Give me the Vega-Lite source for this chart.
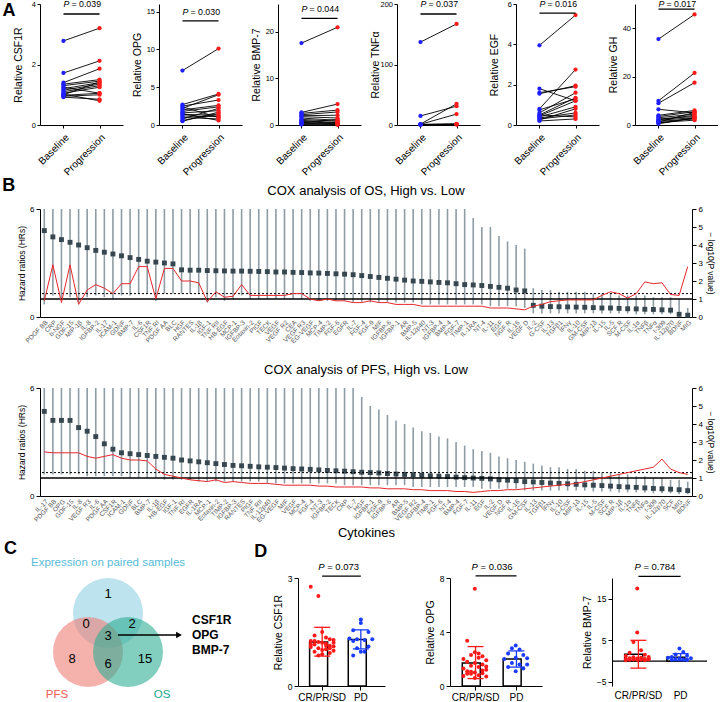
{
"$schema": "https://vega.github.io/schema/vega-lite/v6.json",
"padding": {"left": 2, "top": 0, "right": 0, "bottom": 0},
"config": {"font": "Liberation Sans", "view": {"stroke": null}, "axis": {"domainColor": "black", "tickColor": "black", "labelColor": "black", "titleColor": "black", "titleFontWeight": "normal", "grid": false}, "title": {"fontWeight": "normal", "color": "black"}},
"datasets": {
"A": [
{"m":"CSF1R","p":1,"Baseline":2.78,"Progression":3.2},{"m":"CSF1R","p":2,"Baseline":1.72,"Progression":2.12},{"m":"CSF1R","p":3,"Baseline":1.4,"Progression":1.86},{"m":"CSF1R","p":4,"Baseline":1.35,"Progression":1.5},{"m":"CSF1R","p":5,"Baseline":1.3,"Progression":1.45},{"m":"CSF1R","p":6,"Baseline":1.2,"Progression":1.4},{"m":"CSF1R","p":7,"Baseline":1.15,"Progression":1.35},{"m":"CSF1R","p":8,"Baseline":1.1,"Progression":1.3},{"m":"CSF1R","p":9,"Baseline":1.05,"Progression":1.25},{"m":"CSF1R","p":10,"Baseline":1.0,"Progression":1.42},{"m":"CSF1R","p":11,"Baseline":0.98,"Progression":1.05},{"m":"CSF1R","p":12,"Baseline":0.95,"Progression":1.0},{"m":"CSF1R","p":13,"Baseline":0.92,"Progression":0.85},{"m":"CSF1R","p":14,"Baseline":1.02,"Progression":0.8},{"m":"CSF1R","p":15,"Baseline":1.25,"Progression":1.05},
{"m":"OPG","p":1,"Baseline":7.2,"Progression":10.1},{"m":"OPG","p":2,"Baseline":2.7,"Progression":4.1},{"m":"OPG","p":3,"Baseline":2.5,"Progression":3.3},{"m":"OPG","p":4,"Baseline":2.2,"Progression":4.0},{"m":"OPG","p":5,"Baseline":2.0,"Progression":2.6},{"m":"OPG","p":6,"Baseline":1.8,"Progression":2.4},{"m":"OPG","p":7,"Baseline":1.6,"Progression":1.9},{"m":"OPG","p":8,"Baseline":1.4,"Progression":1.3},{"m":"OPG","p":9,"Baseline":1.2,"Progression":1.1},{"m":"OPG","p":10,"Baseline":1.0,"Progression":0.8},{"m":"OPG","p":11,"Baseline":0.8,"Progression":2.2},{"m":"OPG","p":12,"Baseline":0.6,"Progression":1.5},{"m":"OPG","p":13,"Baseline":2.4,"Progression":1.0},{"m":"OPG","p":14,"Baseline":1.5,"Progression":0.6},{"m":"OPG","p":15,"Baseline":0.5,"Progression":1.7},
{"m":"BMP-7","p":1,"Baseline":17.6,"Progression":21.0},{"m":"BMP-7","p":2,"Baseline":2.7,"Progression":4.5},{"m":"BMP-7","p":3,"Baseline":2.5,"Progression":3.2},{"m":"BMP-7","p":4,"Baseline":2.2,"Progression":2.8},{"m":"BMP-7","p":5,"Baseline":2.0,"Progression":2.1},{"m":"BMP-7","p":6,"Baseline":1.8,"Progression":1.5},{"m":"BMP-7","p":7,"Baseline":1.5,"Progression":1.0},{"m":"BMP-7","p":8,"Baseline":1.2,"Progression":0.8},{"m":"BMP-7","p":9,"Baseline":1.0,"Progression":0.5},{"m":"BMP-7","p":10,"Baseline":0.8,"Progression":0.3},{"m":"BMP-7","p":11,"Baseline":0.6,"Progression":0.2},{"m":"BMP-7","p":12,"Baseline":0.5,"Progression":1.2},{"m":"BMP-7","p":13,"Baseline":0.3,"Progression":0.1},{"m":"BMP-7","p":14,"Baseline":0.2,"Progression":0.6},{"m":"BMP-7","p":15,"Baseline":0.1,"Progression":0.05},
{"m":"TNFα","p":1,"Baseline":137,"Progression":167},{"m":"TNFα","p":2,"Baseline":15,"Progression":31},{"m":"TNFα","p":3,"Baseline":1.5,"Progression":35},{"m":"TNFα","p":4,"Baseline":1.2,"Progression":18},{"m":"TNFα","p":5,"Baseline":1,"Progression":2},{"m":"TNFα","p":6,"Baseline":0.8,"Progression":1.5},{"m":"TNFα","p":7,"Baseline":0.5,"Progression":1},{"m":"TNFα","p":8,"Baseline":0.4,"Progression":0.8},
{"m":"EGF","p":1,"Baseline":3.95,"Progression":5.45},{"m":"EGF","p":2,"Baseline":1.8,"Progression":1.2},{"m":"EGF","p":3,"Baseline":1.6,"Progression":1.9},{"m":"EGF","p":4,"Baseline":1.55,"Progression":1.95},{"m":"EGF","p":5,"Baseline":0.8,"Progression":2.75},{"m":"EGF","p":6,"Baseline":0.75,"Progression":1.3},{"m":"EGF","p":7,"Baseline":0.6,"Progression":1.6},{"m":"EGF","p":8,"Baseline":0.5,"Progression":1.35},{"m":"EGF","p":9,"Baseline":0.45,"Progression":1.2},{"m":"EGF","p":10,"Baseline":0.4,"Progression":0.9},{"m":"EGF","p":11,"Baseline":0.35,"Progression":0.6},{"m":"EGF","p":12,"Baseline":0.3,"Progression":0.5},{"m":"EGF","p":13,"Baseline":0.25,"Progression":0.8},{"m":"EGF","p":14,"Baseline":0.5,"Progression":0.4},{"m":"EGF","p":15,"Baseline":0.2,"Progression":0.3},
{"m":"GH","p":1,"Baseline":35.5,"Progression":45.7},{"m":"GH","p":2,"Baseline":10,"Progression":21.5},{"m":"GH","p":3,"Baseline":9,"Progression":17.5},{"m":"GH","p":4,"Baseline":6.5,"Progression":5},{"m":"GH","p":5,"Baseline":4,"Progression":6},{"m":"GH","p":6,"Baseline":3.5,"Progression":5.5},{"m":"GH","p":7,"Baseline":3,"Progression":4.5},{"m":"GH","p":8,"Baseline":2.5,"Progression":3.5},{"m":"GH","p":9,"Baseline":2,"Progression":3},{"m":"GH","p":10,"Baseline":1.5,"Progression":2.5},{"m":"GH","p":11,"Baseline":1,"Progression":2},{"m":"GH","p":12,"Baseline":0.5,"Progression":3},{"m":"GH","p":13,"Baseline":2.2,"Progression":4},{"m":"GH","p":14,"Baseline":1.2,"Progression":5.2},{"m":"GH","p":15,"Baseline":0.8,"Progression":2.8}
],
"OS": [
{"c":"PDGF BB","hr":4.8,"lo":0.7,"hi":9,"lp":0.9},{"c":"CRP","hr":4.45,"lo":1.2,"hi":9,"lp":2.9},{"c":"b-NGF","hr":4.3,"lo":1.0,"hi":9,"lp":0.8},{"c":"GDF-15","hr":4.15,"lo":1.1,"hi":9,"lp":2.9},{"c":"MIP-1β","hr":4.0,"lo":0.8,"hi":9,"lp":0.7},{"c":"IL-8","hr":3.85,"lo":1.1,"hi":9,"lp":1.5},{"c":"IGFBP-2","hr":3.7,"lo":1.2,"hi":9,"lp":1.8},{"c":"IL-17","hr":3.6,"lo":1.1,"hi":9,"lp":1.6},{"c":"ICAM-1","hr":3.5,"lo":1.0,"hi":9,"lp":1.3},{"c":"GDNF","hr":3.4,"lo":1.2,"hi":9,"lp":1.85},{"c":"BMP-7","hr":3.3,"lo":1.2,"hi":9,"lp":1.85},{"c":"IL-6","hr":3.2,"lo":1.3,"hi":9,"lp":2.8},{"c":"CSF1R","hr":3.1,"lo":1.3,"hi":9,"lp":2.8},{"c":"TNF RI","hr":3.05,"lo":0.9,"hi":9,"lp":1.0},{"c":"PDGF AA","hr":3.0,"lo":1.3,"hi":9,"lp":2.7},{"c":"BLC","hr":2.95,"lo":1.3,"hi":9,"lp":2.7},
{"c":"HGF","hr":2.62,"lo":1.3,"hi":9,"lp":2.0},{"c":"RANTES","hr":2.6,"lo":1.3,"hi":9,"lp":2.0},{"c":"IL-1β","hr":2.6,"lo":1.3,"hi":9,"lp":1.9},{"c":"IGF-1","hr":2.58,"lo":0.8,"hi":9,"lp":0.85},{"c":"TNF RII","hr":2.57,"lo":1.1,"hi":9,"lp":1.4},{"c":"HB-EGF","hr":2.56,"lo":0.9,"hi":9,"lp":1.1},{"c":"MCP-1","hr":2.55,"lo":1.0,"hi":9,"lp":1.15},{"c":"IGFBP-3","hr":2.55,"lo":1.2,"hi":9,"lp":1.8},{"c":"Eotaxin-2","hr":2.54,"lo":1.0,"hi":9,"lp":1.2},{"c":"PIGF","hr":2.53,"lo":1.0,"hi":9,"lp":1.2},{"c":"TECK","hr":2.52,"lo":1.0,"hi":9,"lp":1.2},{"c":"VEGF","hr":2.5,"lo":1.0,"hi":9,"lp":1.2},{"c":"VEGF R2","hr":2.5,"lo":1.0,"hi":9,"lp":1.2},{"c":"CEA","hr":2.48,"lo":1.0,"hi":9,"lp":1.3},{"c":"VEGF R3","hr":2.47,"lo":1.0,"hi":9,"lp":1.3},{"c":"EG-VEGF","hr":2.45,"lo":0.9,"hi":9,"lp":1.0},{"c":"MCP-4","hr":2.44,"lo":0.9,"hi":9,"lp":0.9},{"c":"TIMP-2","hr":2.42,"lo":0.9,"hi":9,"lp":1.0},{"c":"FGF-6","hr":2.4,"lo":0.9,"hi":9,"lp":0.9},{"c":"EGFR","hr":2.38,"lo":0.9,"hi":9,"lp":0.9},{"c":"IL-7","hr":2.35,"lo":0.8,"hi":9,"lp":0.8},{"c":"FGF-4","hr":2.3,"lo":0.8,"hi":9,"lp":0.8},{"c":"FGF-9","hr":2.25,"lo":0.8,"hi":9,"lp":0.9},{"c":"MIF","hr":2.2,"lo":0.8,"hi":9,"lp":0.8},{"c":"IGFBP-6","hr":2.15,"lo":0.8,"hi":9,"lp":0.8},{"c":"IGFBP-1","hr":2.1,"lo":0.8,"hi":9,"lp":0.7},{"c":"AR","hr":2.05,"lo":0.8,"hi":9,"lp":0.7},{"c":"BMP-5","hr":2.0,"lo":0.8,"hi":9,"lp":0.7},{"c":"IL-12p40","hr":1.98,"lo":0.7,"hi":9,"lp":0.6},{"c":"NT-3","hr":1.95,"lo":0.7,"hi":9,"lp":0.6},{"c":"IGFBP-4","hr":1.92,"lo":0.7,"hi":9,"lp":0.6},{"c":"BMP-4","hr":1.9,"lo":0.7,"hi":9,"lp":0.6},{"c":"FGF-7","hr":1.85,"lo":0.7,"hi":9,"lp":0.6},{"c":"TIMP-1","hr":1.8,"lo":0.7,"hi":9,"lp":0.6},{"c":"IL-1RA","hr":1.78,"lo":0.7,"hi":5.5,"lp":0.6},{"c":"NT-4","hr":1.75,"lo":0.7,"hi":5.0,"lp":0.6},{"c":"IL-11","hr":1.7,"lo":0.6,"hi":5.0,"lp":0.5},{"c":"EGF","hr":1.65,"lo":0.6,"hi":4.5,"lp":0.5},{"c":"NGF R","hr":1.6,"lo":0.6,"hi":4.2,"lp":0.5},{"c":"IL-16","hr":1.5,"lo":0.6,"hi":4.0,"lp":0.45},{"c":"VEGF D","hr":1.45,"lo":0.5,"hi":3.8,"lp":0.4},
{"c":"IL-2","hr":0.65,"lo":0.2,"hi":1.6,"lp":0.6},{"c":"G-CSF","hr":0.6,"lo":0.2,"hi":1.5,"lp":0.7},{"c":"IL-13","hr":0.58,"lo":0.2,"hi":1.5,"lp":0.85},{"c":"TGFβ1","hr":0.57,"lo":0.2,"hi":1.4,"lp":0.9},{"c":"IFNγ","hr":0.56,"lo":0.2,"hi":1.4,"lp":0.95},{"c":"IL-10","hr":0.55,"lo":0.2,"hi":1.4,"lp":0.95},{"c":"GM-CSF","hr":0.54,"lo":0.2,"hi":1.4,"lp":0.95},{"c":"MIP-1δ","hr":0.52,"lo":0.2,"hi":1.3,"lp":0.95},{"c":"IL-15","hr":0.5,"lo":0.2,"hi":1.3,"lp":1.2},{"c":"IL-5","hr":0.5,"lo":0.2,"hi":1.3,"lp":1.4},{"c":"SCF R","hr":0.48,"lo":0.2,"hi":1.2,"lp":1.3},{"c":"M-CSF","hr":0.46,"lo":0.2,"hi":1.2,"lp":1.05},{"c":"IL-1α","hr":0.45,"lo":0.15,"hi":1.2,"lp":1.3},{"c":"TNFβ","hr":0.43,"lo":0.15,"hi":1.2,"lp":1.95},{"c":"TNFα","hr":0.42,"lo":0.15,"hi":1.1,"lp":1.85},{"c":"I-309","hr":0.4,"lo":0.15,"hi":1.1,"lp":1.9},{"c":"IL-12p70","hr":0.38,"lo":0.15,"hi":1.1,"lp":1.25},{"c":"BDNF","hr":0.15,"lo":0.02,"hi":1.0,"lp":1.2},{"c":"MIG","hr":0.1,"lo":0.02,"hi":0.5,"lp":2.8}
],
"PFS": [
{"c":"IL-17","hr":4.7,"lo":1.2,"hi":9,"lp":2.45},{"c":"PDGF BB","hr":4.2,"lo":1.2,"hi":9,"lp":2.4},{"c":"OPG","hr":4.2,"lo":1.2,"hi":9,"lp":2.4},{"c":"GDF-15","hr":4.2,"lo":1.2,"hi":9,"lp":2.4},{"c":"IL-8","hr":3.8,"lo":1.2,"hi":9,"lp":2.4},{"c":"VEGF R3","hr":3.6,"lo":1.1,"hi":9,"lp":2.2},{"c":"IL-6","hr":3.3,"lo":1.1,"hi":9,"lp":2.1},{"c":"PDGF AA","hr":2.9,"lo":1.1,"hi":9,"lp":2.2},{"c":"CSF1R","hr":2.6,"lo":1.1,"hi":9,"lp":2.3},{"c":"ICAM-1","hr":2.4,"lo":1.1,"hi":9,"lp":2.1},{"c":"GDNF","hr":2.35,"lo":1.0,"hi":9,"lp":2.0},{"c":"BLC","hr":2.3,"lo":1.0,"hi":9,"lp":2.0},{"c":"BMP-7","hr":2.25,"lo":1.0,"hi":9,"lp":1.95},{"c":"IL-1β","hr":2.2,"lo":1.0,"hi":9,"lp":1.5},{"c":"HB-EGF","hr":2.15,"lo":0.9,"hi":9,"lp":1.2},{"c":"IGF-1","hr":2.1,"lo":0.9,"hi":9,"lp":1.1},{"c":"TNF RI","hr":2.0,"lo":0.9,"hi":9,"lp":1.0},{"c":"EGFR","hr":1.95,"lo":0.9,"hi":9,"lp":0.9},{"c":"IL-1RA","hr":1.9,"lo":0.8,"hi":9,"lp":0.85},{"c":"MCP-1","hr":1.85,"lo":0.8,"hi":9,"lp":0.8},{"c":"Eotaxin-2","hr":1.8,"lo":0.8,"hi":9,"lp":0.9},{"c":"TIMP-2","hr":1.75,"lo":0.8,"hi":9,"lp":0.75},{"c":"IGFBP-3","hr":1.7,"lo":0.8,"hi":9,"lp":0.8},{"c":"RANTES","hr":1.68,"lo":0.8,"hi":9,"lp":0.75},{"c":"PIGF","hr":1.65,"lo":0.8,"hi":9,"lp":0.7},{"c":"TNF RII","hr":1.62,"lo":0.8,"hi":9,"lp":0.7},{"c":"IL-12p40","hr":1.6,"lo":0.7,"hi":9,"lp":0.7},{"c":"EG-VEGF","hr":1.58,"lo":0.7,"hi":9,"lp":0.65},{"c":"MIF","hr":1.55,"lo":0.7,"hi":9,"lp":0.6},{"c":"VEGF","hr":1.52,"lo":0.7,"hi":9,"lp":0.6},{"c":"MCP-4","hr":1.5,"lo":0.7,"hi":9,"lp":0.6},{"c":"FGF-4","hr":1.48,"lo":0.7,"hi":9,"lp":0.6},{"c":"NT-3","hr":1.45,"lo":0.7,"hi":9,"lp":0.55},{"c":"IGFBP-2","hr":1.42,"lo":0.7,"hi":8,"lp":0.55},{"c":"TECK","hr":1.4,"lo":0.7,"hi":7,"lp":0.5},{"c":"CRP","hr":1.38,"lo":0.6,"hi":6.5,"lp":0.5},{"c":"IL-7","hr":1.35,"lo":0.6,"hi":6,"lp":0.5},{"c":"HGF","hr":1.32,"lo":0.6,"hi":5.5,"lp":0.5},{"c":"IGFBP-1","hr":1.3,"lo":0.6,"hi":5,"lp":0.45},{"c":"FGF-9","hr":1.28,"lo":0.6,"hi":4.8,"lp":0.45},{"c":"IGFBP-6","hr":1.25,"lo":0.6,"hi":4.5,"lp":0.4},{"c":"AR","hr":1.22,"lo":0.6,"hi":4.2,"lp":0.4},{"c":"BMP-5","hr":1.2,"lo":0.6,"hi":4,"lp":0.4},{"c":"VEGF R2","hr":1.18,"lo":0.5,"hi":3.8,"lp":0.35},{"c":"IGFBP-4","hr":1.15,"lo":0.5,"hi":3.6,"lp":0.35},{"c":"TIMP-1","hr":1.12,"lo":0.5,"hi":3.5,"lp":0.3},{"c":"FGF-6","hr":1.1,"lo":0.5,"hi":3.3,"lp":0.3},{"c":"NT-4","hr":1.08,"lo":0.5,"hi":3.2,"lp":0.3},{"c":"BMP-4","hr":1.05,"lo":0.5,"hi":3,"lp":0.25},{"c":"FGF-7","hr":1.02,"lo":0.5,"hi":2.8,"lp":0.25},{"c":"IL-11","hr":1.0,"lo":0.5,"hi":2.6,"lp":0.2},{"c":"EGF","hr":0.98,"lo":0.4,"hi":2.5,"lp":0.25},{"c":"IL-2","hr":0.95,"lo":0.4,"hi":2.4,"lp":0.3},{"c":"VEGF D","hr":0.9,"lo":0.4,"hi":2.2,"lp":0.3},{"c":"NGF R","hr":0.88,"lo":0.4,"hi":2.1,"lp":0.35},{"c":"IL-16","hr":0.85,"lo":0.4,"hi":2,"lp":0.35},{"c":"GM-CSF","hr":0.8,"lo":0.3,"hi":1.9,"lp":0.4},{"c":"IL-13","hr":0.78,"lo":0.3,"hi":1.8,"lp":0.45},{"c":"TGFβ1","hr":0.75,"lo":0.3,"hi":1.7,"lp":0.5},{"c":"IFNγ","hr":0.72,"lo":0.3,"hi":1.6,"lp":0.55},{"c":"IL-10","hr":0.7,"lo":0.3,"hi":1.6,"lp":0.6},{"c":"G-CSF","hr":0.68,"lo":0.3,"hi":1.5,"lp":0.65},{"c":"MIP-1δ","hr":0.65,"lo":0.3,"hi":1.5,"lp":0.7},{"c":"IL-15","hr":0.62,"lo":0.3,"hi":1.4,"lp":0.8},{"c":"IL-5","hr":0.6,"lo":0.25,"hi":1.4,"lp":0.9},{"c":"M-CSF","hr":0.58,"lo":0.25,"hi":1.3,"lp":1.0},{"c":"SCF R","hr":0.55,"lo":0.25,"hi":1.3,"lp":1.1},{"c":"MIP-1β","hr":0.52,"lo":0.2,"hi":1.2,"lp":1.2},{"c":"IL-1α","hr":0.5,"lo":0.2,"hi":1.2,"lp":1.3},{"c":"TNFβ","hr":0.48,"lo":0.2,"hi":1.1,"lp":1.4},{"c":"TNFα","hr":0.45,"lo":0.2,"hi":1.1,"lp":1.5},{"c":"I-309","hr":0.42,"lo":0.15,"hi":1.0,"lp":1.6},{"c":"IL-12p70","hr":0.4,"lo":0.15,"hi":1.0,"lp":2.05},{"c":"SCF","hr":0.38,"lo":0.15,"hi":0.9,"lp":1.5},{"c":"MIG","hr":0.35,"lo":0.1,"hi":0.9,"lp":1.3},{"c":"BDNF","hr":0.3,"lo":0.1,"hi":0.8,"lp":1.2}
],
"D1": [{"g":"CR/PR/SD","k":0,"v":2.76},{"g":"CR/PR/SD","k":2,"v":2.5},{"g":"CR/PR/SD","k":3,"v":1.5},{"g":"CR/PR/SD","k":1,"v":1.4},{"g":"CR/PR/SD","k":4,"v":1.35},{"g":"CR/PR/SD","k":5,"v":1.3},{"g":"CR/PR/SD","k":6,"v":1.28},{"g":"CR/PR/SD","k":0,"v":1.25},{"g":"CR/PR/SD","k":2,"v":1.22},{"g":"CR/PR/SD","k":3,"v":1.2},{"g":"CR/PR/SD","k":4,"v":1.18},{"g":"CR/PR/SD","k":1,"v":1.15},{"g":"CR/PR/SD","k":5,"v":1.12},{"g":"CR/PR/SD","k":6,"v":1.1},{"g":"CR/PR/SD","k":0,"v":1.08},{"g":"CR/PR/SD","k":2,"v":1.05},{"g":"CR/PR/SD","k":4,"v":1.02},{"g":"CR/PR/SD","k":3,"v":1.0},{"g":"CR/PR/SD","k":6,"v":0.98},{"g":"CR/PR/SD","k":1,"v":0.95},{"g":"CR/PR/SD","k":5,"v":0.92},{"g":"CR/PR/SD","k":3,"v":0.88},{"g":"CR/PR/SD","k":2,"v":0.85},{"g":"CR/PR/SD","k":4,"v":1.12},{"g":"CR/PR/SD","k":1,"v":1.25},{"g":"CR/PR/SD","k":6,"v":1.2},{"g":"CR/PR/SD","k":0,"v":1.15},{"g":"CR/PR/SD","k":5,"v":1.05},
{"g":"PD","k":3,"v":1.85},{"g":"PD","k":3,"v":1.75},{"g":"PD","k":1,"v":1.55},{"g":"PD","k":5,"v":1.5},{"g":"PD","k":0,"v":1.32},{"g":"PD","k":2,"v":1.3},{"g":"PD","k":4,"v":1.28},{"g":"PD","k":6,"v":1.3},{"g":"PD","k":1,"v":1.25},{"g":"PD","k":5,"v":1.1},{"g":"PD","k":2,"v":1.05},{"g":"PD","k":4,"v":0.95},{"g":"PD","k":3,"v":0.95},{"g":"PD","k":1,"v":0.85}],
"D2": [{"g":"CR/PR/SD","k":3,"v":7.2},{"g":"CR/PR/SD","k":1,"v":3.35},{"g":"CR/PR/SD","k":3,"v":2.5},{"g":"CR/PR/SD","k":4,"v":2.4},{"g":"CR/PR/SD","k":2,"v":2.3},{"g":"CR/PR/SD","k":5,"v":2.2},{"g":"CR/PR/SD","k":0,"v":2.0},{"g":"CR/PR/SD","k":6,"v":1.9},{"g":"CR/PR/SD","k":1,"v":1.8},{"g":"CR/PR/SD","k":3,"v":1.7},{"g":"CR/PR/SD","k":5,"v":1.6},{"g":"CR/PR/SD","k":2,"v":1.5},{"g":"CR/PR/SD","k":4,"v":1.4},{"g":"CR/PR/SD","k":0,"v":1.3},{"g":"CR/PR/SD","k":6,"v":1.2},{"g":"CR/PR/SD","k":1,"v":1.1},{"g":"CR/PR/SD","k":3,"v":1.0},{"g":"CR/PR/SD","k":5,"v":0.95},{"g":"CR/PR/SD","k":2,"v":0.9},{"g":"CR/PR/SD","k":4,"v":0.8},{"g":"CR/PR/SD","k":0,"v":0.75},{"g":"CR/PR/SD","k":6,"v":0.7},{"g":"CR/PR/SD","k":3,"v":0.6},{"g":"CR/PR/SD","k":1,"v":0.9},{"g":"CR/PR/SD","k":5,"v":1.15},{"g":"CR/PR/SD","k":2,"v":1.05},{"g":"CR/PR/SD","k":4,"v":2.1},{"g":"CR/PR/SD","k":6,"v":1.45},
{"g":"PD","k":3,"v":3.0},{"g":"PD","k":2,"v":2.8},{"g":"PD","k":4,"v":2.7},{"g":"PD","k":1,"v":2.4},{"g":"PD","k":5,"v":2.3},{"g":"PD","k":0,"v":2.0},{"g":"PD","k":6,"v":2.05},{"g":"PD","k":3,"v":2.1},{"g":"PD","k":2,"v":1.7},{"g":"PD","k":4,"v":1.6},{"g":"PD","k":1,"v":1.4},{"g":"PD","k":5,"v":1.3},{"g":"PD","k":3,"v":1.1},{"g":"PD","k":6,"v":1.6}],
"D3": [{"g":"CR/PR/SD","k":3,"v":17.5},{"g":"CR/PR/SD","k":3,"v":6.9},{"g":"CR/PR/SD","k":2,"v":4.6},{"g":"CR/PR/SD","k":4,"v":2.6},{"g":"CR/PR/SD","k":1,"v":2.0},{"g":"CR/PR/SD","k":5,"v":1.5},{"g":"CR/PR/SD","k":0,"v":1.2},{"g":"CR/PR/SD","k":6,"v":1.0},{"g":"CR/PR/SD","k":2,"v":0.9},{"g":"CR/PR/SD","k":4,"v":0.8},{"g":"CR/PR/SD","k":1,"v":0.7},{"g":"CR/PR/SD","k":3,"v":0.6},{"g":"CR/PR/SD","k":5,"v":0.5},{"g":"CR/PR/SD","k":0,"v":0.5},{"g":"CR/PR/SD","k":6,"v":0.4},{"g":"CR/PR/SD","k":2,"v":0.4},{"g":"CR/PR/SD","k":4,"v":0.3},{"g":"CR/PR/SD","k":1,"v":0.3},{"g":"CR/PR/SD","k":3,"v":0.3},{"g":"CR/PR/SD","k":5,"v":0.2},{"g":"CR/PR/SD","k":0,"v":0.2},{"g":"CR/PR/SD","k":6,"v":0.6},
{"g":"PD","k":3,"v":3.0},{"g":"PD","k":4,"v":2.2},{"g":"PD","k":2,"v":1.6},{"g":"PD","k":5,"v":1.3},{"g":"PD","k":1,"v":1.0},{"g":"PD","k":0,"v":0.8},{"g":"PD","k":6,"v":0.7},{"g":"PD","k":3,"v":0.6},{"g":"PD","k":2,"v":0.5},{"g":"PD","k":4,"v":0.4},{"g":"PD","k":1,"v":0.3},{"g":"PD","k":5,"v":0.3}],
"DS": [{"chart":"CSF1R","g":"CR/PR/SD","mean":1.22,"lo":0.83,"hi":1.63},{"chart":"CSF1R","g":"PD","mean":1.29,"lo":1.03,"hi":1.56},{"chart":"OPG","g":"CR/PR/SD","mean":1.7,"lo":0.55,"hi":2.92},{"chart":"OPG","g":"PD","mean":2.0,"lo":1.4,"hi":2.6},{"chart":"BMP-7","g":"CR/PR/SD","mean":1.65,"lo":-1.7,"hi":5.0},{"chart":"BMP-7","g":"PD","mean":0.9,"lo":0.1,"hi":1.8}]
},
"vconcat": [
{"hconcat": [
{"width": 83, "height": 121, "layer": [
{"data": {"name": "A"}, "transform": [{"filter": "datum.m === 'CSF1R'"}, {"fold": ["Baseline", "Progression"], "as": ["t", "v"]}], "mark": {"type": "line", "color": "black", "strokeWidth": 0.9}, "encoding": {"x": {"field": "t", "type": "ordinal", "sort": ["Baseline", "Progression"], "scale": {"type": "point", "padding": 0.65}, "axis": {"title": null, "labelAngle": -45, "labelFontSize": 10, "tickSize": 3, "labelPadding": 4}}, "y": {"field": "v", "type": "quantitative", "scale": {"domain": [0, 4]}, "axis": {"values": [0, 1, 2, 3, 4], "title": "Relative CSF1R", "titleFontSize": 10.5, "labelFontSize": 7.5, "tickSize": 3, "labelPadding": 1.5, "minExtent": 15, "maxExtent": 15, "titlePadding": 2}}, "detail": {"field": "p"}}},
{"data": {"name": "A"}, "transform": [{"filter": "datum.m === 'CSF1R'"}, {"fold": ["Baseline", "Progression"], "as": ["t", "v"]}], "mark": {"type": "circle", "size": 18, "opacity": 1}, "encoding": {"x": {"field": "t", "type": "ordinal", "sort": ["Baseline", "Progression"]}, "y": {"field": "v", "type": "quantitative"}, "color": {"field": "t", "type": "nominal", "scale": {"domain": ["Baseline", "Progression", "CR/PR/SD", "PD"], "range": ["#1f1fff", "#ff1a1a", "#ff1a1a", "#1a3cff"]}, "legend": null}}},
{"data": {"values": [{}]}, "mark": {"type": "rule", "strokeWidth": 1.3}, "encoding": {"x": {"datum": "Baseline"}, "x2": {"datum": "Progression"}, "y": {"datum": 3.67}}},
{"data": {"values": [{}]}, "mark": {"type": "text", "fontStyle": "italic", "align": "left", "baseline": "middle", "fontSize": 8.8}, "encoding": {"x": {"datum": "Baseline"}, "y": {"datum": 4}, "text": {"value": "P"}}},
{"data": {"values": [{}]}, "mark": {"type": "text", "align": "left", "baseline": "middle", "fontSize": 8.8, "dx": 8}, "encoding": {"x": {"datum": "Baseline"}, "y": {"datum": 4}, "text": {"value": "= 0.039"}}},
{"data": {"values": [{}]}, "mark": {"type": "text", "align": "left", "baseline": "middle", "fontSize": 18, "fontWeight": "bold", "dx": -61, "dy": 7}, "encoding": {"x": {"datum": "Baseline"}, "y": {"datum": 4}, "text": {"value": "A"}}}
]},
{"width": 83, "height": 121, "layer": [
{"data": {"name": "A"}, "transform": [{"filter": "datum.m === 'OPG'"}, {"fold": ["Baseline", "Progression"], "as": ["t", "v"]}], "mark": {"type": "line", "color": "black", "strokeWidth": 0.9}, "encoding": {"x": {"field": "t", "type": "ordinal", "sort": ["Baseline", "Progression"], "scale": {"type": "point", "padding": 0.65}, "axis": {"title": null, "labelAngle": -45, "labelFontSize": 10, "tickSize": 3, "labelPadding": 4}}, "y": {"field": "v", "type": "quantitative", "scale": {"domain": [0, 15]}, "axis": {"values": [0, 5, 10, 15], "title": "Relative OPG", "titleFontSize": 10.5, "labelFontSize": 7.5, "tickSize": 3, "labelPadding": 1.5, "minExtent": 15, "maxExtent": 15, "titlePadding": 2}}, "detail": {"field": "p"}}},
{"data": {"name": "A"}, "transform": [{"filter": "datum.m === 'OPG'"}, {"fold": ["Baseline", "Progression"], "as": ["t", "v"]}], "mark": {"type": "circle", "size": 18, "opacity": 1}, "encoding": {"x": {"field": "t", "type": "ordinal", "sort": ["Baseline", "Progression"]}, "y": {"field": "v", "type": "quantitative"}, "color": {"field": "t", "type": "nominal", "scale": {"domain": ["Baseline", "Progression", "CR/PR/SD", "PD"], "range": ["#1f1fff", "#ff1a1a", "#ff1a1a", "#1a3cff"]}, "legend": null}}},
{"data": {"values": [{}]}, "mark": {"type": "rule", "strokeWidth": 1.3}, "encoding": {"x": {"datum": "Baseline"}, "x2": {"datum": "Progression"}, "y": {"datum": 13.76}}},
{"data": {"values": [{}]}, "mark": {"type": "text", "fontStyle": "italic", "align": "left", "baseline": "middle", "fontSize": 8.8}, "encoding": {"x": {"datum": "Baseline"}, "y": {"datum": 15}, "text": {"value": "P"}}},
{"data": {"values": [{}]}, "mark": {"type": "text", "align": "left", "baseline": "middle", "fontSize": 8.8, "dx": 8}, "encoding": {"x": {"datum": "Baseline"}, "y": {"datum": 15}, "text": {"value": "= 0.030"}}}
]},
{"width": 83, "height": 121, "layer": [
{"data": {"name": "A"}, "transform": [{"filter": "datum.m === 'BMP-7'"}, {"fold": ["Baseline", "Progression"], "as": ["t", "v"]}], "mark": {"type": "line", "color": "black", "strokeWidth": 0.9}, "encoding": {"x": {"field": "t", "type": "ordinal", "sort": ["Baseline", "Progression"], "scale": {"type": "point", "padding": 0.65}, "axis": {"title": null, "labelAngle": -45, "labelFontSize": 10, "tickSize": 3, "labelPadding": 4}}, "y": {"field": "v", "type": "quantitative", "scale": {"domain": [0, 25]}, "axis": {"values": [0, 5, 10, 15, 20, 25], "title": "Relative BMP-7", "titleFontSize": 10.5, "labelFontSize": 7.5, "tickSize": 3, "labelPadding": 1.5, "minExtent": 15, "maxExtent": 15, "titlePadding": 2}}, "detail": {"field": "p"}}},
{"data": {"name": "A"}, "transform": [{"filter": "datum.m === 'BMP-7'"}, {"fold": ["Baseline", "Progression"], "as": ["t", "v"]}], "mark": {"type": "circle", "size": 18, "opacity": 1}, "encoding": {"x": {"field": "t", "type": "ordinal", "sort": ["Baseline", "Progression"]}, "y": {"field": "v", "type": "quantitative"}, "color": {"field": "t", "type": "nominal", "scale": {"domain": ["Baseline", "Progression", "CR/PR/SD", "PD"], "range": ["#1f1fff", "#ff1a1a", "#ff1a1a", "#1a3cff"]}, "legend": null}}},
{"data": {"values": [{}]}, "mark": {"type": "rule", "strokeWidth": 1.3}, "encoding": {"x": {"datum": "Baseline"}, "x2": {"datum": "Progression"}, "y": {"datum": 22.9}}},
{"data": {"values": [{}]}, "mark": {"type": "text", "fontStyle": "italic", "align": "left", "baseline": "middle", "fontSize": 8.8}, "encoding": {"x": {"datum": "Baseline"}, "y": {"datum": 25}, "text": {"value": "P"}}},
{"data": {"values": [{}]}, "mark": {"type": "text", "align": "left", "baseline": "middle", "fontSize": 8.8, "dx": 8}, "encoding": {"x": {"datum": "Baseline"}, "y": {"datum": 25}, "text": {"value": "= 0.044"}}}
]},
{"width": 83, "height": 121, "layer": [
{"data": {"name": "A"}, "transform": [{"filter": "datum.m === 'TNFα'"}, {"fold": ["Baseline", "Progression"], "as": ["t", "v"]}], "mark": {"type": "line", "color": "black", "strokeWidth": 0.9}, "encoding": {"x": {"field": "t", "type": "ordinal", "sort": ["Baseline", "Progression"], "scale": {"type": "point", "padding": 0.65}, "axis": {"title": null, "labelAngle": -45, "labelFontSize": 10, "tickSize": 3, "labelPadding": 4}}, "y": {"field": "v", "type": "quantitative", "scale": {"domain": [0, 200]}, "axis": {"values": [0, 50, 100, 150, 200], "title": "Relative TNFα", "titleFontSize": 10.5, "labelFontSize": 7.5, "tickSize": 3, "labelPadding": 1.5, "minExtent": 15, "maxExtent": 15, "titlePadding": 2}}, "detail": {"field": "p"}}},
{"data": {"name": "A"}, "transform": [{"filter": "datum.m === 'TNFα'"}, {"fold": ["Baseline", "Progression"], "as": ["t", "v"]}], "mark": {"type": "circle", "size": 18, "opacity": 1}, "encoding": {"x": {"field": "t", "type": "ordinal", "sort": ["Baseline", "Progression"]}, "y": {"field": "v", "type": "quantitative"}, "color": {"field": "t", "type": "nominal", "scale": {"domain": ["Baseline", "Progression", "CR/PR/SD", "PD"], "range": ["#1f1fff", "#ff1a1a", "#ff1a1a", "#1a3cff"]}, "legend": null}}},
{"data": {"values": [{}]}, "mark": {"type": "rule", "strokeWidth": 1.3}, "encoding": {"x": {"datum": "Baseline"}, "x2": {"datum": "Progression"}, "y": {"datum": 183.5}}},
{"data": {"values": [{}]}, "mark": {"type": "text", "fontStyle": "italic", "align": "left", "baseline": "middle", "fontSize": 8.8}, "encoding": {"x": {"datum": "Baseline"}, "y": {"datum": 200}, "text": {"value": "P"}}},
{"data": {"values": [{}]}, "mark": {"type": "text", "align": "left", "baseline": "middle", "fontSize": 8.8, "dx": 8}, "encoding": {"x": {"datum": "Baseline"}, "y": {"datum": 200}, "text": {"value": "= 0.037"}}}
]},
{"width": 83, "height": 121, "layer": [
{"data": {"name": "A"}, "transform": [{"filter": "datum.m === 'EGF'"}, {"fold": ["Baseline", "Progression"], "as": ["t", "v"]}], "mark": {"type": "line", "color": "black", "strokeWidth": 0.9}, "encoding": {"x": {"field": "t", "type": "ordinal", "sort": ["Baseline", "Progression"], "scale": {"type": "point", "padding": 0.65}, "axis": {"title": null, "labelAngle": -45, "labelFontSize": 10, "tickSize": 3, "labelPadding": 4}}, "y": {"field": "v", "type": "quantitative", "scale": {"domain": [0, 6]}, "axis": {"values": [0, 2, 4, 6], "title": "Relative EGF", "titleFontSize": 10.5, "labelFontSize": 7.5, "tickSize": 3, "labelPadding": 1.5, "minExtent": 15, "maxExtent": 15, "titlePadding": 2}}, "detail": {"field": "p"}}},
{"data": {"name": "A"}, "transform": [{"filter": "datum.m === 'EGF'"}, {"fold": ["Baseline", "Progression"], "as": ["t", "v"]}], "mark": {"type": "circle", "size": 18, "opacity": 1}, "encoding": {"x": {"field": "t", "type": "ordinal", "sort": ["Baseline", "Progression"]}, "y": {"field": "v", "type": "quantitative"}, "color": {"field": "t", "type": "nominal", "scale": {"domain": ["Baseline", "Progression", "CR/PR/SD", "PD"], "range": ["#1f1fff", "#ff1a1a", "#ff1a1a", "#1a3cff"]}, "legend": null}}},
{"data": {"values": [{}]}, "mark": {"type": "rule", "strokeWidth": 1.3}, "encoding": {"x": {"datum": "Baseline"}, "x2": {"datum": "Progression"}, "y": {"datum": 5.55}}},
{"data": {"values": [{}]}, "mark": {"type": "text", "fontStyle": "italic", "align": "left", "baseline": "middle", "fontSize": 8.8}, "encoding": {"x": {"datum": "Baseline"}, "y": {"datum": 6}, "text": {"value": "P"}}},
{"data": {"values": [{}]}, "mark": {"type": "text", "align": "left", "baseline": "middle", "fontSize": 8.8, "dx": 8}, "encoding": {"x": {"datum": "Baseline"}, "y": {"datum": 6}, "text": {"value": "= 0.016"}}}
]},
{"width": 83, "height": 121, "layer": [
{"data": {"name": "A"}, "transform": [{"filter": "datum.m === 'GH'"}, {"fold": ["Baseline", "Progression"], "as": ["t", "v"]}], "mark": {"type": "line", "color": "black", "strokeWidth": 0.9}, "encoding": {"x": {"field": "t", "type": "ordinal", "sort": ["Baseline", "Progression"], "scale": {"type": "point", "padding": 0.65}, "axis": {"title": null, "labelAngle": -45, "labelFontSize": 10, "tickSize": 3, "labelPadding": 4}}, "y": {"field": "v", "type": "quantitative", "scale": {"domain": [0, 50]}, "axis": {"values": [0, 10, 20, 30, 40, 50], "title": "Relative GH", "titleFontSize": 10.5, "labelFontSize": 7.5, "tickSize": 3, "labelPadding": 1.5, "minExtent": 15, "maxExtent": 15, "titlePadding": 2}}, "detail": {"field": "p"}}},
{"data": {"name": "A"}, "transform": [{"filter": "datum.m === 'GH'"}, {"fold": ["Baseline", "Progression"], "as": ["t", "v"]}], "mark": {"type": "circle", "size": 18, "opacity": 1}, "encoding": {"x": {"field": "t", "type": "ordinal", "sort": ["Baseline", "Progression"]}, "y": {"field": "v", "type": "quantitative"}, "color": {"field": "t", "type": "nominal", "scale": {"domain": ["Baseline", "Progression", "CR/PR/SD", "PD"], "range": ["#1f1fff", "#ff1a1a", "#ff1a1a", "#1a3cff"]}, "legend": null}}},
{"data": {"values": [{}]}, "mark": {"type": "rule", "strokeWidth": 1.3}, "encoding": {"x": {"datum": "Baseline"}, "x2": {"datum": "Progression"}, "y": {"datum": 47.9}}},
{"data": {"values": [{}]}, "mark": {"type": "text", "fontStyle": "italic", "align": "left", "baseline": "middle", "fontSize": 8.8}, "encoding": {"x": {"datum": "Baseline"}, "y": {"datum": 50}, "text": {"value": "P"}}},
{"data": {"values": [{}]}, "mark": {"type": "text", "align": "left", "baseline": "middle", "fontSize": 8.8, "dx": 8}, "encoding": {"x": {"datum": "Baseline"}, "y": {"datum": 50}, "text": {"value": "= 0.017"}}}
]}
], "spacing": 9},
{"vconcat": [
{"width": 652, "height": 108,
 "layer": [
 {"layer": [
  {"data": {"name": "OS"}, "mark": {"type": "rule", "color": "#8f9ca3", "strokeWidth": 1.6, "clip": true}, "encoding": {"x": {"field": "c", "type": "nominal", "sort": null, "scale": {"type": "point", "padding": 0.5}, "axis": {"title": null, "labelAngle": -45, "labelFontSize": 6.5, "labelColor": "#555555", "ticks": false, "labelPadding": 2}}, "y": {"field": "lo", "type": "quantitative", "scale": {"domain": [0, 6]}, "axis": {"values": [0, 1, 2, 3, 4, 5, 6], "title": "Hazard ratios (HRs)", "titleFontSize": 8.5, "labelFontSize": 8, "tickSize": 4, "labelPadding": 2, "titlePadding": 3}}, "y2": {"field": "hi"}}},
  {"data": {"name": "OS"}, "mark": {"type": "square", "size": 24, "color": "#37474f", "opacity": 1}, "encoding": {"x": {"field": "c", "type": "nominal", "sort": null}, "y": {"field": "hr", "type": "quantitative"}}},
  {"data": {"values": [{}]}, "mark": {"type": "rule", "color": "black", "strokeWidth": 1.5}, "encoding": {"y": {"datum": 1}}},
  {"data": {"values": [{}]}, "mark": {"type": "rule", "color": "black", "strokeWidth": 1, "strokeDash": [2, 2]}, "encoding": {"y": {"datum": 1.3}}},
  {"data": {"values": [{}]}, "mark": {"type": "text", "fontSize": 13, "baseline": "middle", "dx": -4.3, "dy": -18}, "encoding": {"x": {"datum": "FGF-9"}, "y": {"datum": 6}, "text": {"value": "COX analysis of OS, High vs. Low"}}},
  {"data": {"values": [{}]}, "mark": {"type": "text", "align": "left", "baseline": "middle", "fontSize": 18, "fontWeight": "bold", "dx": -42, "dy": -23}, "encoding": {"x": {"datum": "PDGF BB"}, "y": {"datum": 6}, "text": {"value": "B"}}}
 ]},
 {"data": {"name": "OS"}, "mark": {"type": "line", "color": "#e8262a", "strokeWidth": 1}, "encoding": {"x": {"field": "c", "type": "nominal", "sort": null}, "y": {"field": "lp", "type": "quantitative", "scale": {"domain": [0, 6]}, "axis": {"orient": "right", "values": [0, 1, 2, 3, 4, 5, 6], "title": "− log10(P value)", "titleFontSize": 8.5, "labelFontSize": 8, "tickSize": 4, "labelPadding": 2, "titlePadding": 3}}}}
 ],
 "resolve": {"scale": {"y": "independent"}}},
{"width": 652, "height": 108,
 "layer": [
 {"layer": [
  {"data": {"name": "PFS"}, "mark": {"type": "rule", "color": "#8f9ca3", "strokeWidth": 1.6, "clip": true}, "encoding": {"x": {"field": "c", "type": "nominal", "sort": null, "scale": {"type": "point", "padding": 0.5}, "axis": {"title": "Cytokines", "titleFontSize": 13, "titlePadding": 3, "labelAngle": -45, "labelFontSize": 6.5, "labelColor": "#555555", "ticks": false, "labelPadding": 2}}, "y": {"field": "lo", "type": "quantitative", "scale": {"domain": [0, 6]}, "axis": {"values": [0, 1, 2, 3, 4, 5, 6], "title": "Hazard ratios (HRs)", "titleFontSize": 8.5, "labelFontSize": 8, "tickSize": 4, "labelPadding": 2, "titlePadding": 3}}, "y2": {"field": "hi"}}},
  {"data": {"name": "PFS"}, "mark": {"type": "square", "size": 24, "color": "#37474f", "opacity": 1}, "encoding": {"x": {"field": "c", "type": "nominal", "sort": null}, "y": {"field": "hr", "type": "quantitative"}}},
  {"data": {"values": [{}]}, "mark": {"type": "rule", "color": "black", "strokeWidth": 1.5}, "encoding": {"y": {"datum": 1}}},
  {"data": {"values": [{}]}, "mark": {"type": "rule", "color": "black", "strokeWidth": 1, "strokeDash": [2, 2]}, "encoding": {"y": {"datum": 1.3}}},
  {"data": {"values": [{}]}, "mark": {"type": "text", "fontSize": 13, "baseline": "middle", "dx": -4.3, "dy": -18}, "encoding": {"x": {"datum": "IGFBP-1"}, "y": {"datum": 6}, "text": {"value": "COX analysis of PFS, High vs. Low"}}}
 ]},
 {"data": {"name": "PFS"}, "mark": {"type": "line", "color": "#e8262a", "strokeWidth": 1}, "encoding": {"x": {"field": "c", "type": "nominal", "sort": null}, "y": {"field": "lp", "type": "quantitative", "scale": {"domain": [0, 6]}, "axis": {"orient": "right", "values": [0, 1, 2, 3, 4, 5, 6], "title": "− log10(P value)", "titleFontSize": 8.5, "labelFontSize": 8, "tickSize": 4, "labelPadding": 2, "titlePadding": 3}}}}
 ],
 "resolve": {"scale": {"y": "independent"}}}
], "spacing": 19},
{"hconcat": [
{"width": 180, "height": 108,
 "encoding": {"x": {"field": "x", "type": "quantitative", "scale": {"domain": [0, 180]}, "axis": null}, "y": {"field": "y", "type": "quantitative", "scale": {"domain": [0, 108], "reverse": true}, "axis": null}},
 "layer": [
  {"data": {"values": [{"x": 68, "y": 35}]}, "mark": {"type": "circle", "size": 4900, "opacity": 0.6, "color": "#8fd1e3"}},
  {"data": {"values": [{"x": 48, "y": 74}]}, "mark": {"type": "circle", "size": 4900, "opacity": 0.6, "color": "#ef7f77"}},
  {"data": {"values": [{"x": 88, "y": 74}]}, "mark": {"type": "circle", "size": 4900, "opacity": 0.6, "color": "#2fae94"}},
  {"data": {"values": [{"n": "1", "x": 68, "y": 16}, {"n": "0", "x": 46, "y": 46}, {"n": "2", "x": 92, "y": 46}, {"n": "3", "x": 68, "y": 58}, {"n": "8", "x": 32, "y": 81}, {"n": "6", "x": 68, "y": 86}, {"n": "15", "x": 105, "y": 81}]}, "mark": {"type": "text", "fontSize": 13, "baseline": "middle", "color": "black"}, "encoding": {"text": {"field": "n"}}},
  {"data": {"values": [{"x": 78, "y": 57, "x2": 138}]}, "mark": {"type": "rule", "strokeWidth": 1.3, "color": "black"}, "encoding": {"x2": {"field": "x2"}}},
  {"data": {"values": [{"x": 139, "y": 57}]}, "mark": {"type": "point", "shape": "triangle-right", "filled": true, "size": 45, "color": "black", "opacity": 1}},
  {"data": {"values": [{"t": "CSF1R", "x": 152, "y": 42}, {"t": "OPG", "x": 152, "y": 57}, {"t": "BMP-7", "x": 152, "y": 72}]}, "mark": {"type": "text", "fontSize": 12, "fontWeight": "bold", "align": "left", "baseline": "middle", "color": "black"}, "encoding": {"text": {"field": "t"}}},
  {"data": {"values": [{"t": "Expression on paired samples", "x": 68, "y": -15}]}, "mark": {"type": "text", "fontSize": 11.5, "baseline": "middle", "color": "#56bcd8"}, "encoding": {"text": {"field": "t"}}},
  {"data": {"values": [{"t": "PFS", "x": 17, "y": 117}]}, "mark": {"type": "text", "fontSize": 11.5, "baseline": "middle", "color": "#f05a5a"}, "encoding": {"text": {"field": "t"}}},
  {"data": {"values": [{"t": "OS", "x": 122, "y": 117}]}, "mark": {"type": "text", "fontSize": 11.5, "baseline": "middle", "color": "#23a58b"}, "encoding": {"text": {"field": "t"}}},
  {"data": {"values": [{"t": "C", "x": -36, "y": -29}]}, "mark": {"type": "text", "fontSize": 18, "fontWeight": "bold", "align": "left", "baseline": "middle", "color": "black"}, "encoding": {"text": {"field": "t"}}}
 ]},
{"hconcat": [
{"width": 87, "height": 108, "layer": [
 {"data": {"name": "DS"}, "transform": [{"filter": "datum.chart === 'CSF1R'"}], "mark": {"type": "bar", "fill": "white", "stroke": "black", "strokeWidth": 1.5}, "encoding": {"x": {"field": "g", "type": "nominal", "sort": ["CR/PR/SD", "PD"], "scale": {"paddingInner": 0.35, "paddingOuter": 0.3}, "axis": {"title": null, "labelAngle": 0, "labelFontSize": 10, "tickSize": 4, "labelPadding": 2}}, "y": {"field": "mean", "type": "quantitative", "scale": {"domain": [0, 3]}, "axis": {"values": [0, 1, 2, 3], "title": "Relative CSF1R", "titleFontSize": 10.5, "labelFontSize": 8.5, "tickSize": 4, "labelPadding": 2, "titlePadding": 4}}}},
 {"data": {"name": "D1"}, "mark": {"type": "circle", "size": 16, "opacity": 1}, "encoding": {"x": {"field": "g", "type": "nominal", "sort": ["CR/PR/SD", "PD"]}, "xOffset": {"field": "k", "type": "ordinal", "scale": {"paddingOuter": 0.3}}, "y": {"field": "v", "type": "quantitative"}, "color": {"field": "g", "type": "nominal", "scale": {"domain": ["Baseline", "Progression", "CR/PR/SD", "PD"], "range": ["#1f1fff", "#ff1a1a", "#ff1a1a", "#1a3cff"]}, "legend": null}}},
 {"data": {"name": "DS"}, "transform": [{"filter": "datum.chart === 'CSF1R'"}], "mark": {"type": "rule", "strokeWidth": 1.3}, "encoding": {"x": {"field": "g", "type": "nominal", "sort": ["CR/PR/SD", "PD"]}, "y": {"field": "lo", "type": "quantitative"}, "y2": {"field": "hi"}, "color": {"field": "g", "type": "nominal", "scale": {"domain": ["Baseline", "Progression", "CR/PR/SD", "PD"], "range": ["#1f1fff", "#ff1a1a", "#ff1a1a", "#1a3cff"]}, "legend": null}}},
 {"data": {"name": "DS"}, "transform": [{"filter": "datum.chart === 'CSF1R'"}, {"fold": ["lo", "hi"], "as": ["e", "ev"]}], "mark": {"type": "tick", "size": 16, "thickness": 1.3, "opacity": 1}, "encoding": {"x": {"field": "g", "type": "nominal", "sort": ["CR/PR/SD", "PD"]}, "y": {"field": "ev", "type": "quantitative"}, "color": {"field": "g", "type": "nominal", "scale": {"domain": ["Baseline", "Progression", "CR/PR/SD", "PD"], "range": ["#1f1fff", "#ff1a1a", "#ff1a1a", "#1a3cff"]}, "legend": null}}},
 {"data": {"values": [{}]}, "mark": {"type": "rule", "strokeWidth": 1.3}, "encoding": {"x": {"datum": "CR/PR/SD"}, "x2": {"datum": "PD"}, "y": {"datum": 3.05}}},
 {"data": {"values": [{}]}, "mark": {"type": "text", "fontStyle": "italic", "align": "left", "baseline": "middle", "fontSize": 9.5, "dx": -4, "dy": -11}, "encoding": {"x": {"datum": "CR/PR/SD"}, "y": {"datum": 3}, "text": {"value": "P"}}},
 {"data": {"values": [{}]}, "mark": {"type": "text", "align": "left", "baseline": "middle", "fontSize": 9.5, "dx": 5, "dy": -11}, "encoding": {"x": {"datum": "CR/PR/SD"}, "y": {"datum": 3}, "text": {"value": "= 0.073"}}},
 {"data": {"values": [{}]}, "mark": {"type": "text", "align": "left", "baseline": "middle", "fontSize": 18, "fontWeight": "bold", "dx": -68, "dy": -26}, "encoding": {"x": {"datum": "CR/PR/SD"}, "y": {"datum": 3}, "text": {"value": "D"}}}
]},
{"width": 92, "height": 108, "layer": [
 {"data": {"name": "DS"}, "transform": [{"filter": "datum.chart === 'OPG'"}], "mark": {"type": "bar", "fill": "white", "stroke": "black", "strokeWidth": 1.5}, "encoding": {"x": {"field": "g", "type": "nominal", "sort": ["CR/PR/SD", "PD"], "scale": {"paddingInner": 0.35, "paddingOuter": 0.3}, "axis": {"title": null, "labelAngle": 0, "labelFontSize": 10, "tickSize": 4, "labelPadding": 2}}, "y": {"field": "mean", "type": "quantitative", "scale": {"domain": [0, 8]}, "axis": {"values": [0, 2, 4, 6, 8], "title": "Relative OPG", "titleFontSize": 10.5, "labelFontSize": 8.5, "tickSize": 4, "labelPadding": 2, "titlePadding": 4}}}},
 {"data": {"name": "D2"}, "mark": {"type": "circle", "size": 16, "opacity": 1}, "encoding": {"x": {"field": "g", "type": "nominal", "sort": ["CR/PR/SD", "PD"]}, "xOffset": {"field": "k", "type": "ordinal", "scale": {"paddingOuter": 0.3}}, "y": {"field": "v", "type": "quantitative"}, "color": {"field": "g", "type": "nominal", "scale": {"domain": ["Baseline", "Progression", "CR/PR/SD", "PD"], "range": ["#1f1fff", "#ff1a1a", "#ff1a1a", "#1a3cff"]}, "legend": null}}},
 {"data": {"name": "DS"}, "transform": [{"filter": "datum.chart === 'OPG'"}], "mark": {"type": "rule", "strokeWidth": 1.3}, "encoding": {"x": {"field": "g", "type": "nominal", "sort": ["CR/PR/SD", "PD"]}, "y": {"field": "lo", "type": "quantitative"}, "y2": {"field": "hi"}, "color": {"field": "g", "type": "nominal", "scale": {"domain": ["Baseline", "Progression", "CR/PR/SD", "PD"], "range": ["#1f1fff", "#ff1a1a", "#ff1a1a", "#1a3cff"]}, "legend": null}}},
 {"data": {"name": "DS"}, "transform": [{"filter": "datum.chart === 'OPG'"}, {"fold": ["lo", "hi"], "as": ["e", "ev"]}], "mark": {"type": "tick", "size": 16, "thickness": 1.3, "opacity": 1}, "encoding": {"x": {"field": "g", "type": "nominal", "sort": ["CR/PR/SD", "PD"]}, "y": {"field": "ev", "type": "quantitative"}, "color": {"field": "g", "type": "nominal", "scale": {"domain": ["Baseline", "Progression", "CR/PR/SD", "PD"], "range": ["#1f1fff", "#ff1a1a", "#ff1a1a", "#1a3cff"]}, "legend": null}}},
 {"data": {"values": [{}]}, "mark": {"type": "rule", "strokeWidth": 1.3}, "encoding": {"x": {"datum": "CR/PR/SD"}, "x2": {"datum": "PD"}, "y": {"datum": 8.15}}},
 {"data": {"values": [{}]}, "mark": {"type": "text", "fontStyle": "italic", "align": "left", "baseline": "middle", "fontSize": 9.5, "dx": -4, "dy": -11}, "encoding": {"x": {"datum": "CR/PR/SD"}, "y": {"datum": 8}, "text": {"value": "P"}}},
 {"data": {"values": [{}]}, "mark": {"type": "text", "align": "left", "baseline": "middle", "fontSize": 9.5, "dx": 5, "dy": -11}, "encoding": {"x": {"datum": "CR/PR/SD"}, "y": {"datum": 8}, "text": {"value": "= 0.036"}}}
]},
{"width": 95, "height": 108, "layer": [
 {"data": {"values": [{}]}, "mark": {"type": "rule", "strokeWidth": 1.3, "color": "black"}, "encoding": {"y": {"datum": 0}}},
 {"data": {"name": "DS"}, "transform": [{"filter": "datum.chart === 'BMP-7'"}], "mark": {"type": "bar", "fill": "white", "stroke": "black", "strokeWidth": 1.5}, "encoding": {"x": {"field": "g", "type": "nominal", "sort": ["CR/PR/SD", "PD"], "scale": {"paddingInner": 0.35, "paddingOuter": 0.3}, "axis": {"title": null, "labelAngle": 0, "labelFontSize": 10, "domain": false, "ticks": false, "labelPadding": 4}}, "y": {"field": "mean", "type": "quantitative", "scale": {"domain": [-5, 20]}, "axis": {"values": [-5, 0, 5, 10, 15, 20], "title": "Relative BMP-7", "titleFontSize": 10.5, "labelFontSize": 8.5, "tickSize": 4, "labelPadding": 2, "titlePadding": 4}}}},
 {"data": {"name": "D3"}, "mark": {"type": "circle", "size": 16, "opacity": 1}, "encoding": {"x": {"field": "g", "type": "nominal", "sort": ["CR/PR/SD", "PD"]}, "xOffset": {"field": "k", "type": "ordinal", "scale": {"paddingOuter": 0.3}}, "y": {"field": "v", "type": "quantitative"}, "color": {"field": "g", "type": "nominal", "scale": {"domain": ["Baseline", "Progression", "CR/PR/SD", "PD"], "range": ["#1f1fff", "#ff1a1a", "#ff1a1a", "#1a3cff"]}, "legend": null}}},
 {"data": {"name": "DS"}, "transform": [{"filter": "datum.chart === 'BMP-7'"}], "mark": {"type": "rule", "strokeWidth": 1.3}, "encoding": {"x": {"field": "g", "type": "nominal", "sort": ["CR/PR/SD", "PD"]}, "y": {"field": "lo", "type": "quantitative"}, "y2": {"field": "hi"}, "color": {"field": "g", "type": "nominal", "scale": {"domain": ["Baseline", "Progression", "CR/PR/SD", "PD"], "range": ["#1f1fff", "#ff1a1a", "#ff1a1a", "#1a3cff"]}, "legend": null}}},
 {"data": {"name": "DS"}, "transform": [{"filter": "datum.chart === 'BMP-7'"}, {"fold": ["lo", "hi"], "as": ["e", "ev"]}], "mark": {"type": "tick", "size": 16, "thickness": 1.3, "opacity": 1}, "encoding": {"x": {"field": "g", "type": "nominal", "sort": ["CR/PR/SD", "PD"]}, "y": {"field": "ev", "type": "quantitative"}, "color": {"field": "g", "type": "nominal", "scale": {"domain": ["Baseline", "Progression", "CR/PR/SD", "PD"], "range": ["#1f1fff", "#ff1a1a", "#ff1a1a", "#1a3cff"]}, "legend": null}}},
 {"data": {"values": [{}]}, "mark": {"type": "rule", "strokeWidth": 1.3}, "encoding": {"x": {"datum": "CR/PR/SD"}, "x2": {"datum": "PD"}, "y": {"datum": 20.4}}},
 {"data": {"values": [{}]}, "mark": {"type": "text", "fontStyle": "italic", "align": "left", "baseline": "middle", "fontSize": 9.5, "dx": -4, "dy": -11}, "encoding": {"x": {"datum": "CR/PR/SD"}, "y": {"datum": 20}, "text": {"value": "P"}}},
 {"data": {"values": [{}]}, "mark": {"type": "text", "align": "left", "baseline": "middle", "fontSize": 9.5, "dx": 5, "dy": -11}, "encoding": {"x": {"datum": "CR/PR/SD"}, "y": {"datum": 20}, "text": {"value": "= 0.784"}}}
]}
], "spacing": 40}
], "spacing": 22}
],
"spacing": 0
}
